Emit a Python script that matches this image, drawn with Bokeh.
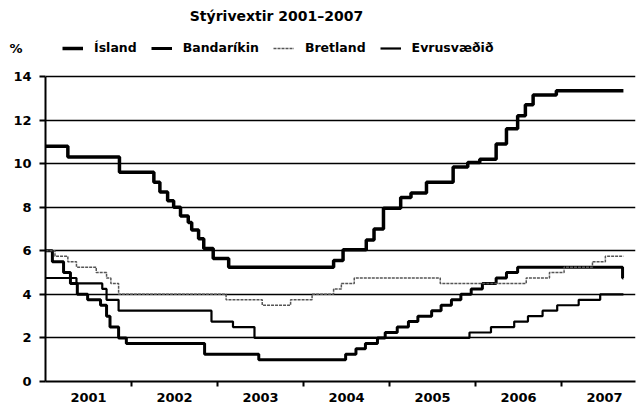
from bokeh.plotting import figure
from bokeh.models import Range1d, FixedTicker, Label, Legend, LegendItem, LinearAxis
from bokeh.embed import file_html
from bokeh.resources import INLINE

FONT = "DejaVu Sans"

# ---- data (decimal year of change, rate %) ----
isl_x = [2001.00, 2001.26, 2001.86, 2002.26, 2002.33, 2002.42, 2002.49, 2002.57, 2002.66,
         2002.70, 2002.78, 2002.84, 2002.95, 2003.13, 2004.35, 2004.46, 2004.73, 2004.82,
         2004.93, 2005.13, 2005.25, 2005.43, 2005.74, 2005.91, 2006.05, 2006.24, 2006.36,
         2006.49, 2006.58, 2006.67, 2006.94, 2007.72]
isl_y = [10.8, 10.3, 9.6, 9.15, 8.7, 8.3, 8.0, 7.6, 7.3,
         6.95, 6.55, 6.1, 5.65, 5.25, 5.55, 6.05, 6.5, 7.0,
         7.95, 8.45, 8.65, 9.15, 9.85, 10.05, 10.2, 10.9, 11.6,
         12.2, 12.7, 13.15, 13.35, 13.35]

us_x = [2001.00, 2001.08, 2001.21, 2001.29, 2001.37, 2001.49, 2001.64, 2001.71, 2001.75,
        2001.85, 2001.94, 2002.85, 2003.48, 2004.49, 2004.61, 2004.72, 2004.86, 2004.95,
        2005.09, 2005.22, 2005.33, 2005.49, 2005.60, 2005.72, 2005.83, 2005.95, 2006.08,
        2006.24, 2006.36, 2006.49, 2007.71, 2007.72]
us_y = [6.0, 5.5, 5.0, 4.5, 4.0, 3.75, 3.5, 3.0, 2.5,
        2.0, 1.75, 1.25, 1.0, 1.25, 1.5, 1.75, 2.0, 2.25,
        2.5, 2.75, 3.0, 3.25, 3.5, 3.75, 4.0, 4.25, 4.5,
        4.75, 5.0, 5.25, 4.75, 4.75]

uk_x = [2001.00, 2001.11, 2001.26, 2001.36, 2001.59, 2001.71, 2001.76, 2001.85, 2003.10,
        2003.52, 2003.85, 2004.10, 2004.35, 2004.44, 2004.59, 2005.59, 2006.59, 2006.86,
        2007.03, 2007.36, 2007.51, 2007.72]
uk_y = [6.0, 5.75, 5.5, 5.25, 5.0, 4.75, 4.5, 4.0, 3.75,
        3.5, 3.75, 4.0, 4.25, 4.5, 4.75, 4.5, 4.75, 5.0,
        5.25, 5.5, 5.75, 5.75]

ez_x = [2001.00, 2001.36, 2001.66, 2001.71, 2001.85, 2002.93, 2003.18, 2003.43, 2005.93,
        2006.18, 2006.45, 2006.61, 2006.78, 2006.95, 2007.20, 2007.45, 2007.72]
ez_y = [4.75, 4.5, 4.25, 3.75, 3.25, 2.75, 2.5, 2.0, 2.25,
        2.5, 2.75, 3.0, 3.25, 3.5, 3.75, 4.0, 4.0]

year_labels = ["2001", "2002", "2003", "2004", "2005", "2006", "2007"]
year_bounds = [2002, 2003, 2004, 2005, 2006, 2007]
y_ticks = [0, 2, 4, 6, 8, 10, 12, 14]

title_text = "Stýrivextir 2001–2007"
unit_text = "%"
series_names = ["Ísland", "Bandaríkin", "Bretland", "Evrusvæðið"]

# ---- layout constants (pixels) ----
W, H = 636, 406
LEFT, RIGHT, BOTTOM = 45, 1, 25
FRAME_H = H - BOTTOM              # frame reaches the top of the canvas
PX_PER_UNIT = 305 / 14.0          # 0..14 spans 305 px as in the reference
Y_TOP = FRAME_H / PX_PER_UNIT
X_END = 2001.0 + (W - LEFT - RIGHT) / 86.0
LEGEND_ROW = 48                   # vertical centre of the legend row (px from top)
UNIT_Y = (FRAME_H - LEGEND_ROW) / PX_PER_UNIT

p = figure(width=W, height=H, min_border_left=LEFT, min_border_right=RIGHT,
           min_border_top=0, min_border_bottom=BOTTOM,
           x_range=Range1d(2001.0, X_END), y_range=Range1d(0, Y_TOP),
           output_backend="svg", toolbar_location=None)
p.outline_line_color = None
p.background_fill_color = "white"
p.border_fill_color = "white"

# grid
p.xgrid.visible = False
p.ygrid.ticker = FixedTicker(ticks=y_ticks)
p.ygrid.grid_line_color = "black"
p.ygrid.grid_line_width = 1.6

# main y axis
ya = p.yaxis[0]
ya.bounds = (0, 14)
ya.ticker = FixedTicker(ticks=y_ticks)
ya.axis_line_color = "black"
ya.axis_line_width = 2
ya.major_tick_out = 6
ya.major_tick_in = 0
ya.major_tick_line_width = 2
ya.minor_tick_line_color = None
ya.major_label_standoff = 8
ya.major_label_text_font = FONT
ya.major_label_text_font_style = "bold"
ya.major_label_text_font_size = "13px"
ya.major_label_text_color = "black"

# unit axis carrying only the "%" label
ua = LinearAxis(ticker=FixedTicker(ticks=[UNIT_Y]),
                major_label_overrides={UNIT_Y: unit_text},
                axis_line_color=None, major_tick_line_color=None,
                minor_tick_line_color=None, major_tick_out=0, major_tick_in=0,
                minor_tick_out=0, minor_tick_in=0,
                major_label_standoff=-12, major_label_text_font=FONT,
                major_label_text_font_style="bold", major_label_text_font_size="13px",
                major_label_text_color="black")
p.add_layout(ua, "left")

# x axis: labels mid-year, tick marks at year boundaries
mids = [int(s) + 0.5 for s in year_labels]
xa = p.xaxis[0]
xa.ticker = FixedTicker(ticks=mids, minor_ticks=year_bounds)
xa.major_label_overrides = {m: s for m, s in zip(mids, year_labels)}
xa.axis_line_color = "black"
xa.axis_line_width = 2
xa.major_tick_line_color = None
xa.major_tick_out = 0
xa.major_tick_in = 0
xa.minor_tick_line_color = "black"
xa.minor_tick_line_width = 2
xa.minor_tick_out = 5
xa.minor_tick_in = 0
xa.major_label_standoff = 6
xa.major_label_text_font = FONT
xa.major_label_text_font_style = "bold"
xa.major_label_text_font_size = "13px"
xa.major_label_text_color = "black"

# ---- series ----
r_isl = p.step(isl_x, isl_y, mode="after", line_color="black", line_width=3.5)
r_us = p.step(us_x, us_y, mode="after", line_color="black", line_width=3)
r_uk = p.step(uk_x, uk_y, mode="after", line_color="#555555", line_width=1.5, line_dash="3 1")
r_ez = p.step(ez_x, ez_y, mode="after", line_color="black", line_width=2.2)

legend = Legend(items=[LegendItem(label=n, renderers=[r]) for n, r in
                       zip(series_names, [r_isl, r_us, r_uk, r_ez])],
                orientation="horizontal", location=(17, FRAME_H - LEGEND_ROW - 7),
                padding=0, margin=0, spacing=14, glyph_width=21, glyph_height=14,
                label_height=14, label_standoff=11,
                border_line_color=None, background_fill_alpha=0,
                label_text_font=FONT, label_text_font_style="bold",
                label_text_font_size="12.5px", label_text_color="black")
p.add_layout(legend)

p.add_layout(Label(x=276 - LEFT, y=FRAME_H - 15, x_units="screen", y_units="screen",
                   text=title_text, text_align="center", text_baseline="middle",
                   text_font=FONT, text_font_style="bold", text_font_size="14px",
                   text_color="black"))

open("out.html", "w").write(file_html(p, INLINE))
